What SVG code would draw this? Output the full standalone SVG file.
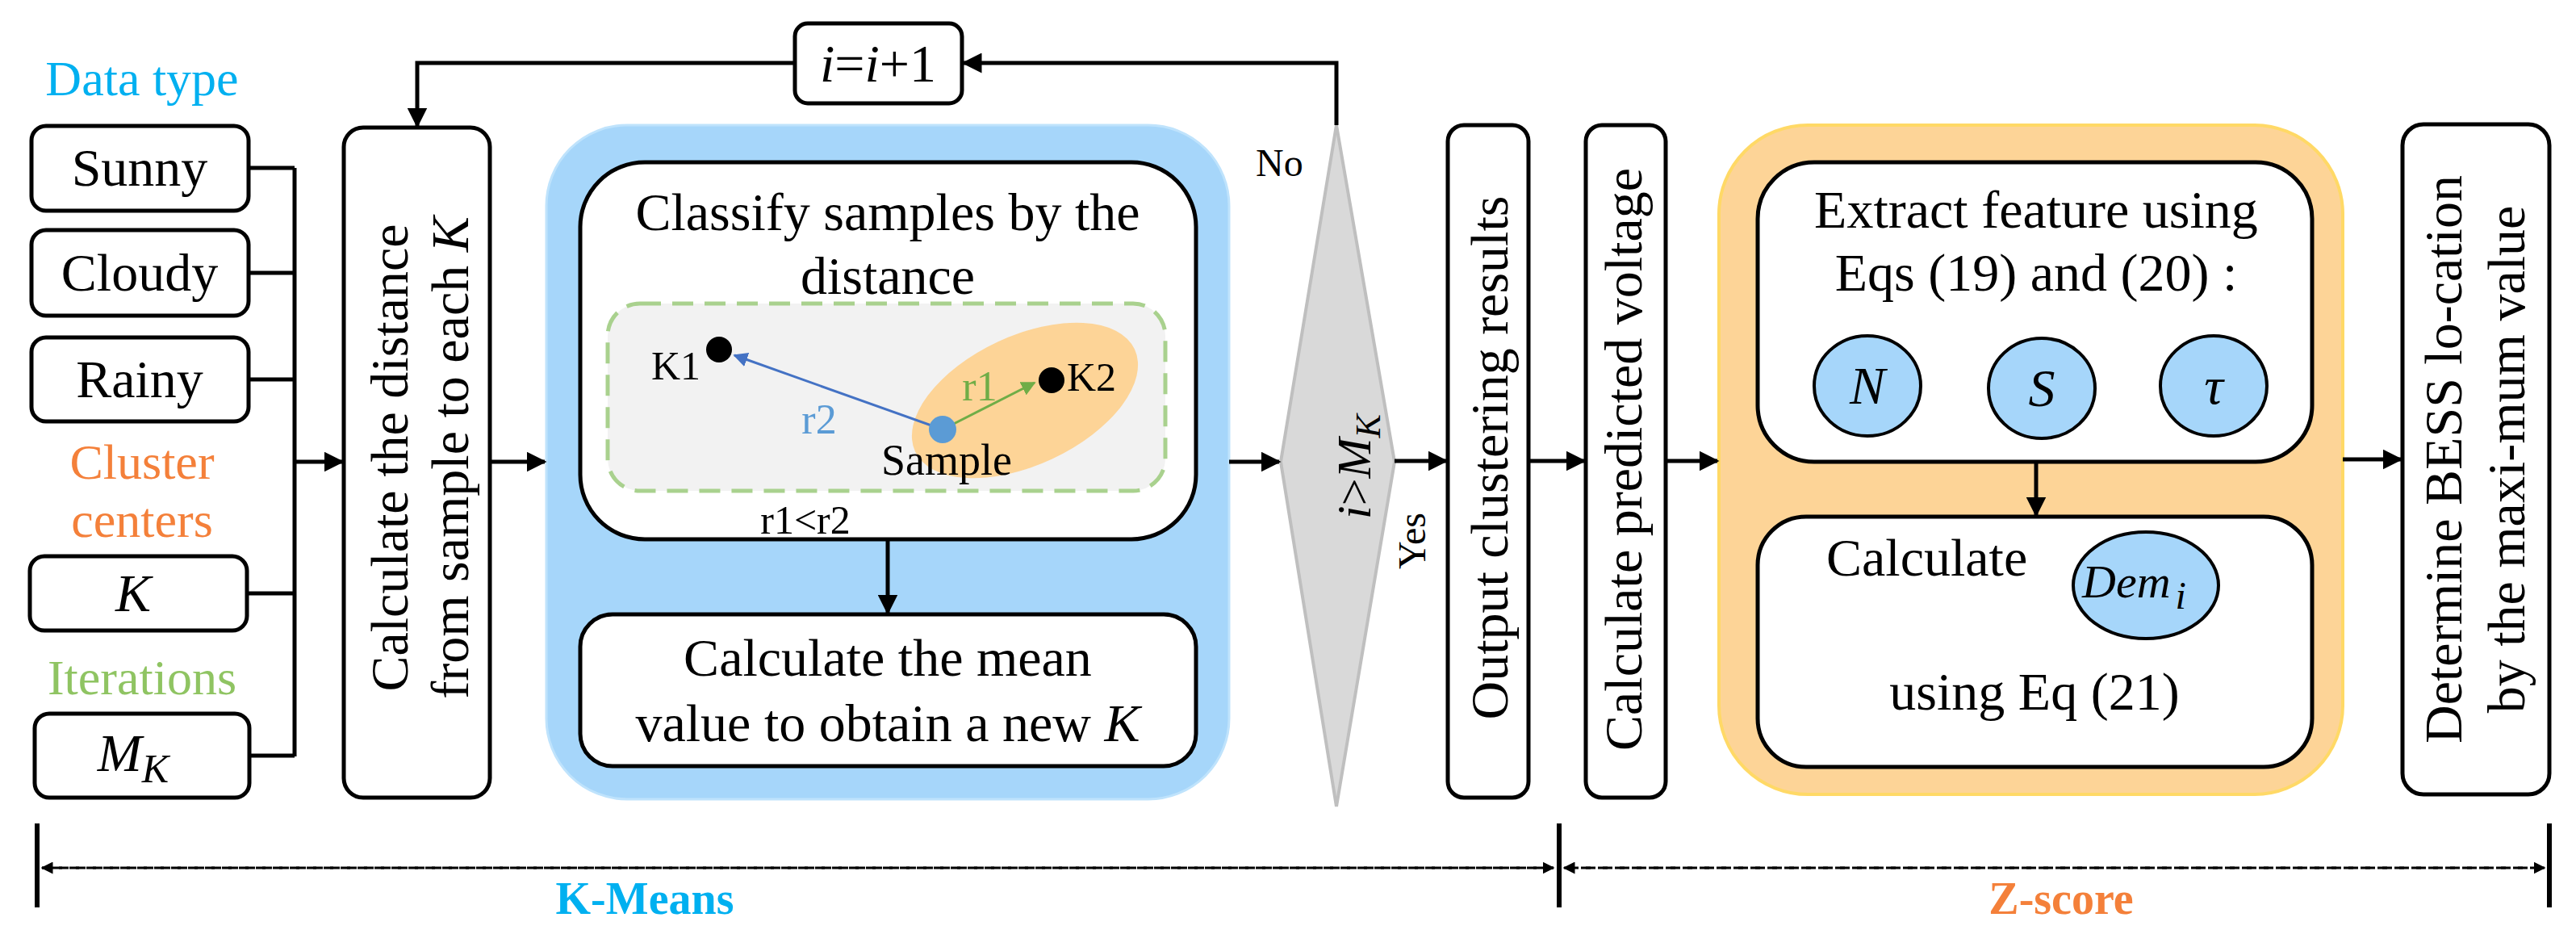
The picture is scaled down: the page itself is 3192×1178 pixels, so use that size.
<svg xmlns="http://www.w3.org/2000/svg" width="3192" height="1178" viewBox="0 0 3192 1178" font-family="'Liberation Serif', 'DejaVu Serif', serif">
<defs>
<style>
text{font-family:'Liberation Serif','DejaVu Serif',serif;fill:#000}
.t{font-size:66px}
.m{text-anchor:middle}
.box{fill:#fff;stroke:#000;stroke-width:5}
.ln{fill:none;stroke:#000;stroke-width:5}
.it{font-style:italic}
</style>
<marker id="ar" viewBox="0 0 10 10" refX="9" refY="5" markerWidth="5" markerHeight="5" orient="auto" markerUnits="strokeWidth"><path d="M0,0L10,5L0,10z" fill="#000"/></marker>
<marker id="ab" viewBox="0 0 10 10" refX="9" refY="5" markerWidth="6" markerHeight="6" orient="auto" markerUnits="strokeWidth"><path d="M0,0L10,5L0,10z" fill="#4472c4"/></marker>
<marker id="ag" viewBox="0 0 10 10" refX="9" refY="5" markerWidth="6" markerHeight="6" orient="auto" markerUnits="strokeWidth"><path d="M0,0L10,5L0,10z" fill="#70ad47"/></marker>
</defs>
<g id="labels">
<text x="176" y="118" class="m" font-size="62" style="fill:#00b0f0">Data type</text>
<text x="176" y="593" class="m" font-size="62" style="fill:#f4803a">Cluster</text>
<text x="176" y="665" class="m" font-size="62" style="fill:#f4803a">centers</text>
<text x="176" y="860" class="m" font-size="62" style="fill:#8fc462">Iterations</text>
</g>
<g id="sunny"><rect class="box" x="39" y="156" width="269" height="105" rx="18"/><text class="t m" x="173" y="230">Sunny</text></g>
<g id="cloudy"><rect class="box" x="39" y="285" width="269" height="106" rx="18"/><text class="t m" x="173" y="360">Cloudy</text></g>
<g id="rainy"><rect class="box" x="39" y="418" width="269" height="104" rx="18"/><text class="t m" x="173" y="492">Rainy</text></g>
<g id="k"><rect class="box" x="37" y="689" width="269" height="92" rx="18"/><text class="t m it" x="165" y="757">K</text></g>
<g id="mk"><rect class="box" x="43" y="884" width="266" height="104" rx="18"/><text class="t m it" x="165" y="955">M<tspan font-size="50" dy="14">K</tspan></text></g>
<g id="distance"><rect class="box" x="426" y="158" width="181" height="830" rx="24"/>
<text class="t m" transform="rotate(-90 505 567)" x="505" y="567">Calculate the distance</text>
<text class="t m" transform="rotate(-90 580 567)" x="580" y="567">from sample to each <tspan class="it">K</tspan></text></g>
<g id="kmeans-group"><rect x="677" y="155" width="846" height="835" rx="100" fill="#a6d6fa" stroke="#bfe3fc" stroke-width="3"/></g>
<g id="classify"><rect class="box" x="719" y="201" width="763" height="467" rx="80"/>
<text class="t m" x="1100" y="285">Classify samples by the</text>
<text class="t m" x="1100" y="364">distance</text>
<rect x="753" y="376" width="691" height="232" rx="40" fill="#f2f2f2" stroke="#a9d18e" stroke-width="5" stroke-dasharray="26 14"/>
<ellipse cx="1270" cy="496" rx="150" ry="80" transform="rotate(-25 1270 496)" fill="#fdd497"/>
<line x1="1168" y1="532" x2="910" y2="440" stroke="#4472c4" stroke-width="3" marker-end="url(#ab)"/>
<line x1="1168" y1="532" x2="1282" y2="474" stroke="#70ad47" stroke-width="3" marker-end="url(#ag)"/>
<circle cx="891" cy="433" r="16" fill="#000"/>
<circle cx="1303" cy="471" r="16" fill="#000"/>
<circle cx="1168" cy="532" r="17" fill="#5b9bd5"/>
<text x="868" y="470" font-size="50" text-anchor="end">K1</text>
<text x="1322" y="484" font-size="50">K2</text>
<text x="1015" y="537" font-size="52" class="m" style="fill:#5b9bd5">r2</text>
<text x="1214" y="496" font-size="52" class="m" style="fill:#70ad47">r1</text>
<text x="1173" y="588" font-size="54" class="m">Sample</text>
<text x="998" y="661" font-size="50" class="m">r1&lt;r2</text></g>
<g id="mean"><rect class="box" x="719" y="761" width="763" height="188" rx="40"/>
<text class="t m" x="1100" y="837">Calculate the mean</text>
<text class="t m" x="1100" y="918">value to obtain a new <tspan class="it">K</tspan></text></g>
<g id="iter"><rect class="box" x="985" y="29" width="207" height="99" rx="16"/><text class="t m it" x="1088" y="101">i<tspan font-style="normal">=</tspan>i<tspan font-style="normal">+1</tspan></text></g>
<g id="decision"><polygon points="1656,155 1728,572 1656,999 1587,572" fill="#d9d9d9" stroke="#bfbfbf" stroke-width="4"/>
<text class="m it" font-size="60" transform="rotate(-90 1698 578)" x="1698" y="578">i<tspan font-style="normal">&gt;</tspan>M<tspan font-size="44" dy="12">K</tspan></text>
<text x="1556" y="218" font-size="48">No</text>
<text class="m" font-size="48" transform="rotate(-90 1766 670)" x="1766" y="670">Yes</text></g>
<g id="output"><rect class="box" x="1794" y="155" width="100" height="833" rx="20"/><text class="t m" transform="rotate(-90 1868 567)" x="1868" y="567">Output clustering results</text></g>
<g id="predicted"><rect class="box" x="1965" y="155" width="99" height="833" rx="20"/><text class="t m" transform="rotate(-90 2034 569)" x="2034" y="569">Calculate predicted voltage</text></g>
<g id="zscore-group"><rect x="2130" y="155" width="773" height="829" rx="110" fill="#fdd497" stroke="#ffd966" stroke-width="4"/></g>
<g id="extract"><rect class="box" x="2178" y="201" width="687" height="371" rx="70"/>
<text class="t m" x="2523" y="282">Extract feature using</text>
<text class="t m" x="2523" y="360">Eqs (19) and (20) :</text>
<ellipse cx="2314" cy="478" rx="66" ry="62" fill="#a6d6fa" stroke="#000" stroke-width="4"/>
<ellipse cx="2530" cy="481" rx="66" ry="62" fill="#a6d6fa" stroke="#000" stroke-width="4"/>
<ellipse cx="2743" cy="478" rx="66" ry="62" fill="#a6d6fa" stroke="#000" stroke-width="4"/>
<text class="t m it" x="2314" y="500">N</text><text class="t m it" x="2530" y="503">S</text><text class="t m it" x="2743" y="500">τ</text></g>
<g id="dem"><rect class="box" x="2178" y="640" width="687" height="310" rx="60"/>
<text class="t" x="2263" y="713">Calculate</text>
<ellipse cx="2659" cy="725" rx="90" ry="66" fill="#a6d6fa" stroke="#000" stroke-width="4"/>
<text class="it" font-size="58" x="2580" y="740">Dem<tspan font-size="48" dx="6" dy="14">i</tspan></text>
<text class="t m" x="2521" y="879">using Eq (21)</text></g>
<g id="determine"><rect class="box" x="2977" y="154" width="182" height="830" rx="26"/>
<text class="t m" transform="rotate(-90 3050 569)" x="3050" y="569">Determine BESS lo-cation</text>
<text class="t m" transform="rotate(-90 3128 569)" x="3128" y="569">by the maxi-mum value</text></g>
<g id="connectors">
<path class="ln" d="M308,208H365M308,338H365M308,470H365M306,735H365M309,936H365M365,208V937"/>
<path class="ln" d="M365,572H424" marker-end="url(#ar)"/>
<path class="ln" d="M607,572H675" marker-end="url(#ar)"/>
<path class="ln" d="M1523,572H1585" marker-end="url(#ar)"/>
<path class="ln" d="M1100,668V759" marker-end="url(#ar)"/>
<path class="ln" d="M1656,155V78H1194" marker-end="url(#ar)"/>
<path class="ln" d="M985,78H517V156" marker-end="url(#ar)"/>
<path class="ln" d="M1728,571H1792" marker-end="url(#ar)"/>
<path class="ln" d="M1894,571H1963" marker-end="url(#ar)"/>
<path class="ln" d="M2064,571H2128" marker-end="url(#ar)"/>
<path class="ln" d="M2523,572V638" marker-end="url(#ar)"/>
<path class="ln" d="M2903,569H2975" marker-end="url(#ar)"/>
</g>
<g id="spans">
<path d="M46,1020V1124M1932,1020V1124M3159,1020V1124" stroke="#000" stroke-width="6"/>
<path d="M1925,1075H52" stroke="#000" stroke-width="3" stroke-dasharray="12 9" marker-end="url(#ar)"/>
<path d="M52,1075H1925" stroke="#000" stroke-width="3" stroke-dasharray="12 9" marker-end="url(#ar)"/>
<path d="M3153,1075H1938" stroke="#000" stroke-width="3" stroke-dasharray="12 9" marker-end="url(#ar)"/>
<path d="M1938,1075H3153" stroke="#000" stroke-width="3" stroke-dasharray="12 9" marker-end="url(#ar)"/>
<text x="799" y="1132" class="m" font-size="56" font-weight="bold" style="fill:#00b0f0">K-Means</text>
<text x="2554" y="1132" class="m" font-size="56" font-weight="bold" style="fill:#f4803a">Z-score</text>
</g>
</svg>
